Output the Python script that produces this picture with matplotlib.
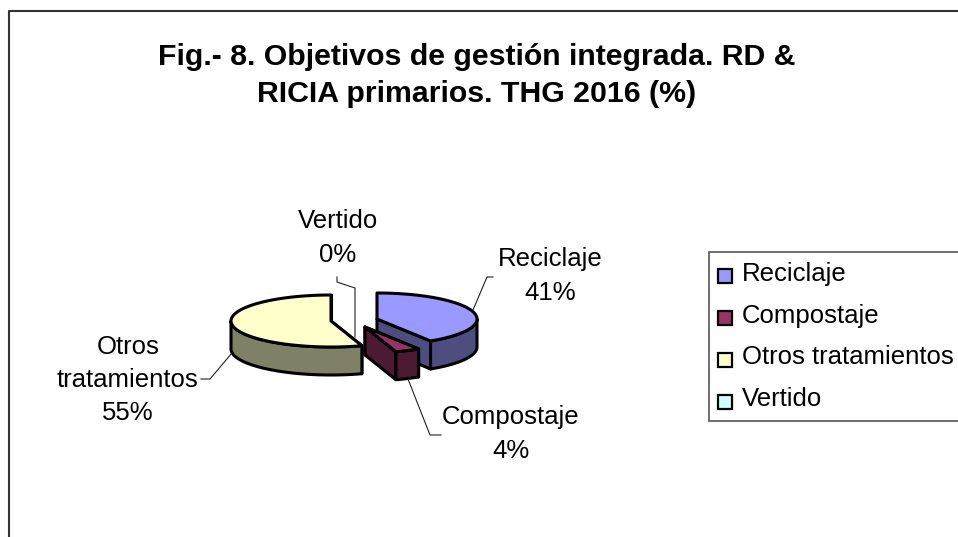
import numpy as np
import matplotlib
matplotlib.use("Agg")
import matplotlib.pyplot as plt
from matplotlib.patches import Polygon, Rectangle

plt.rcParams['font.family'] = ['Liberation Sans', 'DejaVu Sans']

title_lines = ["Fig.- 8. Objetivos de gestión integrada. RD &", "RICIA primarios. THG 2016 (%)"]
categories = ["Reciclaje", "Compostaje", "Otros tratamientos", "Vertido"]
values = [41, 4, 55, 0]
top_colors = ["#9999FF", "#993366", "#FFFFCC", "#CCFFFF"]
side_colors = ["#4D4D80", "#4D1A33", "#808066", "#668080"]

# where each slice sits after being pulled out of the pie (pixels)
centers = {"Reciclaje": (377, 319), "Compostaje": (365, 327), "Otros tratamientos": (331, 321)}
RX, RY, DEPTH = 100, 26, 28


def rim(cx, cy, a0, a1):
    # points on the ellipse, angle in degrees clockwise from 12 o'clock
    a = np.radians(np.linspace(a0, a1, 80))
    return np.column_stack([cx + RX * np.sin(a), cy - RY * np.cos(a)])


def draw_slice(ax, name, a0, a1, top, side):
    cx, cy = centers[name]
    edge = dict(edgecolor="black", linewidth=2.2, joinstyle="round")
    down = np.array([0, DEPTH])
    apex = np.array([cx, cy])
    arc = rim(cx, cy, a0, a1)
    # flat cut faces first, then the outer wall, then the top
    for p in (arc[0], arc[-1]):
        ax.add_patch(Polygon([apex, p, p + down, apex + down], facecolor=side, **edge))
    vis = rim(cx, cy, max(a0, 90), min(a1, 270)) if a0 < 270 and a1 > 90 else None
    if vis is not None:
        ax.add_patch(Polygon(np.vstack([vis, (vis + down)[::-1]]), facecolor=side, **edge))
    ax.add_patch(Polygon(np.vstack([apex, arc]), facecolor=top, **edge))


fig = plt.figure(figsize=(9.58, 5.37), dpi=100)
ax = fig.add_axes([0, 0, 1, 1])
ax.set_xlim(0, 958)
ax.set_ylim(537, 0)
ax.axis("off")

# chart frame, cut off by the page on the right and at the bottom
ax.plot([9, 9, 958], [537, 11, 11], color="#333333", lw=1.5)

for y, line in zip([57, 94], title_lines):
    ax.text(477, y, line, ha="center", va="center", fontsize=21.8, fontweight="bold", color="black")

angles = np.cumsum([0] + values) * 3.6
order = [2, 0, 1]
for i in order:
    draw_slice(ax, categories[i], angles[i], angles[i + 1], top_colors[i], side_colors[i])

# data labels and their leader lines
leader = dict(color="#222222", lw=0.8)
ax.plot([493, 487, 473], [277, 277, 310], **leader)
ax.plot([408, 430, 441], [379, 435, 435], **leader)
ax.plot([232, 210, 201], [353, 379, 379], **leader)
ax.plot([337, 337, 355, 355], [277, 282, 288, 337], **leader)

label_font = 18.5
spacing = 1.5
ax.text(550, 276, f"Reciclaje\n{values[0]}%", ha="center", va="center", fontsize=label_font, linespacing=spacing)
ax.text(511, 434, f"Compostaje\n{values[1]}%", ha="center", va="center", fontsize=label_font, linespacing=spacing)
ax.text(128, 380, f"Otros\ntratamientos\n{values[2]}%", ha="center", va="center", fontsize=label_font, linespacing=spacing)
ax.text(338, 238, f"{categories[3]}\n{values[3]}%", ha="center", va="center", fontsize=label_font, linespacing=spacing)

# legend box
ax.add_patch(Rectangle((709, 252), 260, 169, facecolor="white", edgecolor="#555555", lw=1.2))
for k, (name, col) in enumerate(zip(categories, top_colors)):
    y = 275.5 + k * 42
    ax.add_patch(Rectangle((718.5, y - 7), 14, 14, facecolor=col, edgecolor="black", lw=1.6))
    ax.text(742, y - 2, name, ha="left", va="center", fontsize=label_font)

fig.savefig("out.png", dpi=100)
